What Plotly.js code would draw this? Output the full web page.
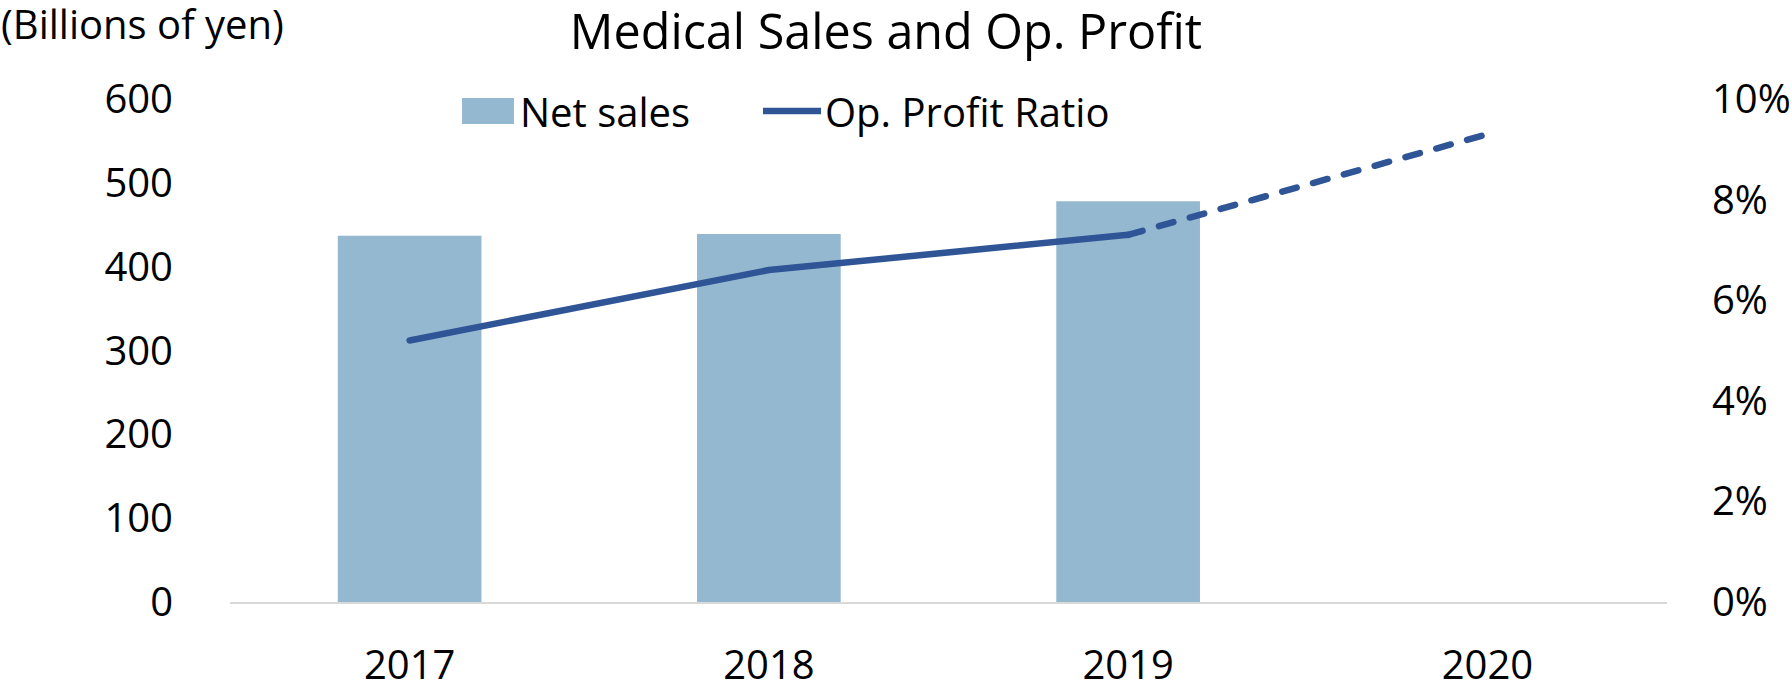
<!DOCTYPE html>
<html>
<head>
<meta charset="utf-8">
<script src="https://cdn.plot.ly/plotly-3.0.1.min.js"></script>
<style>html,body{margin:0;padding:0;background:#fff;}#chart{width:1792px;height:684px;}</style>
</head>
<body>
<div id="chart"></div>
<script>
const years = ['2017', '2018', '2019', '2020'];
const netSales = [437, 439, 478, null];
const opRatioActual = [5.2, 6.6, 7.3, null];
const opRatioForecast = [null, null, 7.3, 9.3];
const leftTicks = [0, 100, 200, 300, 400, 500, 600];
const rightTicks = [0, 2, 4, 6, 8, 10];
const rightTickText = ['0%', '2%', '4%', '6%', '8%', '10%'];

const FONT = 'Open Sans, Noto Sans, sans-serif';
const BAR = '#95B8D1';
const LINE = '#2F5597';

const traces = [
  {type: 'bar', name: 'Net sales', x: years, y: netSales, marker: {color: BAR}, width: 0.4, yaxis: 'y'},
  {type: 'scatter', mode: 'lines', name: 'Op. Profit Ratio', x: years, y: opRatioActual, yaxis: 'y2',
   line: {color: LINE, width: 6.5}},
  {type: 'scatter', mode: 'lines', name: 'Op. Profit Ratio (forecast)', x: years, y: opRatioForecast, yaxis: 'y2',
   line: {color: LINE, width: 6.5, dash: '15px,17px'}, showlegend: false}
];

const layout = {
  width: 1792, height: 684,
  margin: {l: 230, r: 125, t: 99, b: 82, autoexpand: false},
  paper_bgcolor: '#fff', plot_bgcolor: '#fff',
  font: {family: FONT, color: '#000', size: 40},
  title: {text: 'Medical Sales and Op. Profit', xref: 'container', x: 886/1792, xanchor: 'center',
          yref: 'container', y: 1 - 32/684, yanchor: 'middle',
          font: {family: FONT, size: 48.5, color: '#000'}},
  showlegend: true,
  legend: {orientation: 'h', xref: 'container', yref: 'container', x: 448/1792, y: 1 - 111/684, xanchor: 'left', yanchor: 'middle',
           font: {family: FONT, size: 40, color: '#000'}, bgcolor: 'rgba(0,0,0,0)', borderwidth: 0, itemwidth: 62, traceorder: 'normal'},
  xaxis: {type: 'category', categoryorder: 'array', categoryarray: years, range: [-0.5, 3.5],
          showline: true, linecolor: '#D9D9D9', linewidth: 2, showgrid: false, zeroline: false, ticks: '',
          tickfont: {family: FONT, size: 40}, ticklabelstandoff: 27},
  yaxis: {range: [0, 600], tickvals: leftTicks, showgrid: false, zeroline: false, showline: false, ticks: '',
          tickfont: {family: FONT, size: 40}, ticklabelstandoff: 56},
  yaxis2: {overlaying: 'y', side: 'right', range: [0, 10], tickvals: rightTicks, ticktext: rightTickText, showgrid: false, zeroline: false,
           showline: false, ticks: '', tickfont: {family: FONT, size: 40}, ticklabelstandoff: 44},
  annotations: [
    {text: '(Billions of yen)', xref: 'paper', yref: 'paper', x: (-1 - 230) / 1437, y: (602 - 24) / 503,
     showarrow: false, xanchor: 'left', yanchor: 'middle', font: {family: FONT, size: 40, color: '#000'}}
  ]
};

Plotly.newPlot('chart', traces, layout, {displayModeBar: false, staticPlot: true}).then(function () {
  // round line caps/joins like the reference
  document.querySelectorAll('#chart .scatterlayer path.js-line').forEach(function (p) {
    p.style.strokeLinecap = 'round';
    p.style.strokeLinejoin = 'round';
  });
  // Reshape legend symbols to the wide swatch / long line used in the reference
  const items = document.querySelectorAll('#chart .legend .traces');
  if (items.length >= 2) {
    items[0].querySelectorAll('.legendpoints path').forEach(function (p) {
      p.setAttribute('transform', 'translate(40,0) scale(4.33,2.17)');
    });
    items[1].querySelectorAll('.legendlines path, .legendpoints path').forEach(function (p) {
      p.setAttribute('d', 'M10,0h58');
    });
    const m = /translate\(([-\d.]+)[ ,]+([-\d.]+)\)/.exec(items[0].getAttribute('transform') || 'translate(0,0)');
    const x0 = m ? parseFloat(m[1]) : 0, y0 = m ? parseFloat(m[2]) : 0;
    items[1].setAttribute('transform', 'translate(' + (x0 + 305) + ',' + y0 + ')');
    document.querySelectorAll('#chart .legend [clip-path]').forEach(function (el) { el.removeAttribute('clip-path'); });
  }
});
</script>
</body>
</html>
